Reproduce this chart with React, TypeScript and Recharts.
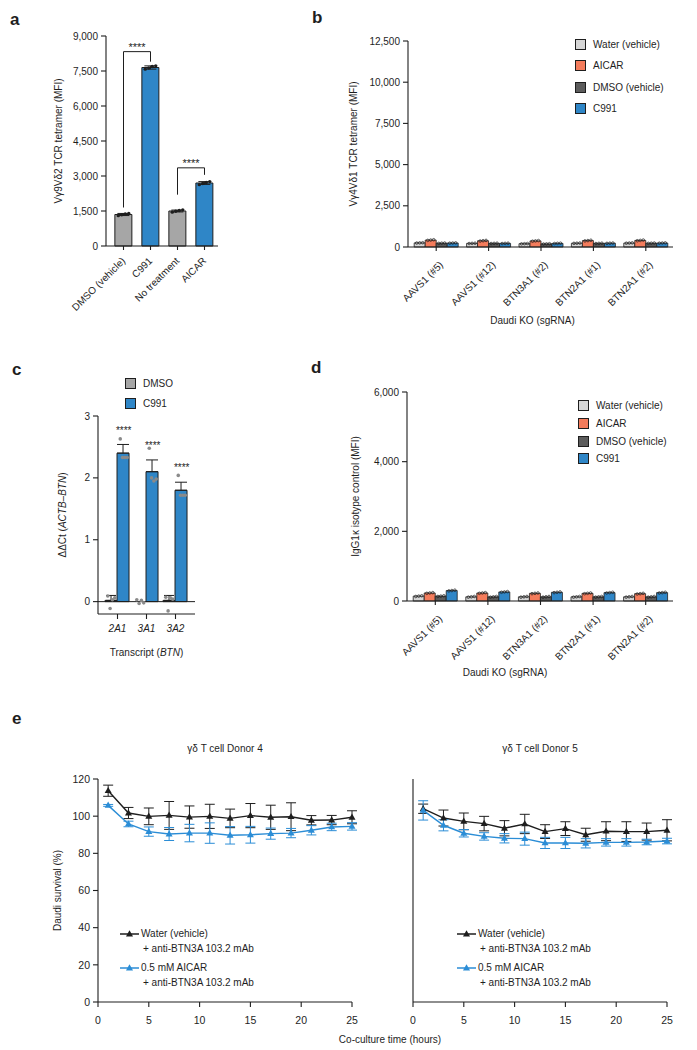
import React from 'react';
import {
  ComposedChart,
  LineChart,
  Bar,
  Cell,
  Line,
  XAxis,
  YAxis,
  Scatter,
  ErrorBar,
  Legend,
  ReferenceLine,
  Label,
} from 'recharts';

const FONT = '"Liberation Sans", Arial, Helvetica, sans-serif';
const INK = '#1e1e1e';
const BLUE = '#2F86C7';
const MID_GREY = '#A6A6A6';
const LIGHT_GREY = '#D6D6D6';
const ORANGE = '#F47C5C';
const DARK_GREY = '#5C5C5C';
const E_BLUE = '#2B8DD6';

// ---- panel a ----
const aGroups = ['DMSO (vehicle)', 'C991', 'No treatment', 'AICAR'];
const aMeans = [1350, 7650, 1500, 2700];
const aErr = [45, 70, 40, 60];
const aReps = [
  [1300, 1340, 1370, 1390],
  [7580, 7630, 7690, 7720],
  [1450, 1490, 1520, 1550],
  [2630, 2680, 2720, 2760],
];
const aColors = [MID_GREY, BLUE, MID_GREY, BLUE];
const aTicks = [0, 1500, 3000, 4500, 6000, 7500, 9000];
// significance brackets: [from group, to group, left leg y, top y, right leg y]
const aBrackets = [
  [0, 1, 1650, 8330, 7900],
  [2, 3, 2200, 3350, 3050],
];

// ---- panels b / d ----
const koGroups = ['AAVS1 (#5)', 'AAVS1 (#12)', 'BTN3A1 (#2)', 'BTN2A1 (#1)', 'BTN2A1 (#2)'];
const koSeries = ['Water (vehicle)', 'AICAR', 'DMSO (vehicle)', 'C991'];
const koColors = [LIGHT_GREY, ORANGE, DARK_GREY, BLUE];

const bWater = [250, 220, 200, 230, 240];
const bAicar = [420, 380, 370, 390, 400];
const bDmso = [230, 220, 190, 220, 230];
const bC991 = [240, 220, 220, 230, 240];
const bWaterReps = [[240, 250, 260], [210, 220, 230], [190, 200, 210], [220, 230, 240], [230, 240, 250]];
const bAicarReps = [[400, 420, 440], [360, 380, 400], [350, 370, 390], [370, 390, 410], [380, 400, 420]];
const bDmsoReps = [[220, 230, 240], [210, 220, 230], [180, 190, 200], [210, 220, 230], [220, 230, 240]];
const bC991Reps = [[230, 240, 250], [210, 220, 230], [210, 220, 230], [220, 230, 240], [230, 240, 250]];
const bTicks = [0, 2500, 5000, 7500, 10000, 12500];

const dWater = [140, 120, 120, 120, 120];
const dAicar = [230, 230, 220, 220, 210];
const dDmso = [140, 120, 120, 120, 120];
const dC991 = [300, 260, 250, 240, 240];
const dWaterReps = [[130, 140, 150], [110, 120, 130], [110, 120, 130], [110, 120, 130], [110, 120, 130]];
const dAicarReps = [[220, 230, 240], [220, 230, 240], [210, 220, 230], [210, 220, 230], [200, 210, 220]];
const dDmsoReps = [[130, 140, 150], [110, 120, 130], [110, 120, 130], [110, 120, 130], [110, 120, 130]];
const dC991Reps = [[290, 300, 310], [250, 260, 270], [240, 250, 260], [230, 240, 250], [230, 240, 250]];
const dTicks = [0, 2000, 4000, 6000];

// ---- panel c ----
const cGenes = ['2A1', '3A1', '3A2'];
const cSeries = ['DMSO', 'C991'];
const cDmso = [0.02, 0.0, 0.02];
const cDmsoErr = [0.08, 0.04, 0.08];
const cC991 = [2.4, 2.1, 1.8];
const cC991Err = [0.14, 0.19, 0.13];
const cDmsoReps = [[0.09, -0.11, 0.03, 0.06], [0.03, -0.03, 0.02, -0.02], [0.07, -0.15, 0.06, 0.04]];
const cC991Reps = [[2.63, 2.33, 2.33, 2.33], [2.48, 2.0, 1.95, 1.98], [2.04, 1.72, 1.72, 1.72]];
const cStarY = [2.77, 2.53, 2.18];
const cTicks = [0, 1, 2, 3];

// ---- panel e ----
const eHours = [1, 3, 5, 7, 9, 11, 13, 15, 17, 19, 21, 23, 25];
const eNames = ['Water (vehicle)', '0.5 mM AICAR'];
const eSubLabel = '+ anti-BTN3A 103.2 mAb';
const d4Water = [113.7, 101.7, 99.9, 100.4, 99.5, 99.9, 98.8, 100.3, 99.4, 99.7, 97.8, 97.9, 99.4];
const d4WaterErr = [3, 3, 4.5, 7.5, 6, 6.5, 5, 6.5, 6.5, 7.5, 2.5, 2.5, 3.5];
const d4Aicar = [105.8, 95.8, 91.7, 90.4, 90.9, 90.9, 89.7, 90.0, 90.6, 90.9, 92.4, 94.2, 94.5];
const d4AicarErr = [0.5, 1.5, 2.5, 3.5, 4.7, 5.5, 4.7, 4.5, 3, 2.5, 2.5, 2, 2];
const d5Water = [104, 99, 97.2, 96, 93.5, 95.8, 91.7, 93.3, 90, 91.9, 91.7, 91.7, 92.4];
const d5WaterErr = [2.5, 4.3, 4.5, 3.9, 4.1, 5.2, 3.7, 3.7, 3.5, 5.1, 5.3, 4.6, 5.7];
const d5Aicar = [103.1, 95.1, 90.8, 89.1, 88.1, 87.9, 85.6, 85.6, 85.4, 85.9, 85.9, 86.1, 86.6];
const d5AicarErr = [5.2, 3, 2, 2, 2.5, 3.5, 3, 3, 2.5, 2, 2, 1.5, 1.5];
const eYTicks = [0, 20, 40, 60, 80, 100, 120];
const eXTicks = [0, 5, 10, 15, 20, 25];

const tickFont = { fontSize: 10, fill: INK };
const axisLine = { stroke: INK, strokeWidth: 1.1 };
const tickLine = { stroke: INK, strokeWidth: 1.1 };
const fmt = (v: number) => v.toLocaleString('en-US');

// keep legend entries in series order and drop the helper series
const ordered = (payload: any[] = [], names: string[]) =>
  names.map((n) => payload.find((p) => p.value === n)).filter(Boolean);

function yTitle(content: React.ReactNode, x: number) {
  return (props: any) => {
    const vb = props.viewBox;
    const cy = vb.y + vb.height / 2;
    return (
      <text x={x} y={cy} transform={`rotate(-90 ${x} ${cy})`} textAnchor="middle" dominantBaseline="central" fontSize={10} fill={INK}>
        {content}
      </text>
    );
  };
}

function xTitle(content: React.ReactNode, dx: number, y: number) {
  return (props: any) => {
    const vb = props.viewBox;
    const cx = vb.x + vb.width / 2 + dx;
    return (
      <text x={cx} y={y} textAnchor="middle" dominantBaseline="central" fontSize={10} fill={INK}>
        {content}
      </text>
    );
  };
}

function slantTick(dx: number, dy: number) {
  return (props: any) => {
    const { x, y, payload } = props;
    const ax = x + dx;
    const ay = y + dy;
    return (
      <text x={ax} y={ay} transform={`rotate(-45 ${ax} ${ay})`} textAnchor="end" dominantBaseline="central" fontSize={10} fill={INK}>
        {payload.value}
      </text>
    );
  };
}

const dotShape = (r: number, fill: string, stroke = 'none') => (p: any) => (
  <circle cx={p.cx} cy={p.cy} r={r} fill={fill} stroke={stroke} strokeWidth={0.7} />
);

function SwatchLegend({ payload, rowH, names }: any) {
  return (
    <div style={{ fontSize: 10, color: INK }}>
      {ordered(payload, names).map((p: any) => (
        <div key={p.value} style={{ display: 'flex', alignItems: 'center', height: rowH }}>
          <span
            style={{
              display: 'inline-block',
              width: 11,
              height: 11,
              boxSizing: 'border-box',
              background: p.color,
              border: `1px solid ${INK}`,
              marginRight: 7,
            }}
          />
          <span>{p.value}</span>
        </div>
      ))}
    </div>
  );
}

function PanelA() {
  const rows = aGroups.map((name, i) => ({ name, mean: aMeans[i], err: aErr[i] }));
  const dots = aReps.flatMap((reps, i) => reps.map((y, k) => ({ x: i + 0.5 + (k - 1.5) * 0.13, y })));
  return (
    <ComposedChart width={230} height={330} data={rows} margin={{ top: 36, right: 12, left: 0, bottom: 0 }} barCategoryGap="18%">
      <XAxis dataKey="name" height={84} interval={0} padding={{ left: 4, right: 0 }} tick={slantTick(0, 7)} tickSize={4} axisLine={axisLine} tickLine={tickLine} />
      <XAxis xAxisId="n" type="number" dataKey="x" domain={[0, 4]} hide padding={{ left: 4, right: 0 }} allowDataOverflow />
      <YAxis width={106} domain={[0, 9000]} ticks={aTicks} interval={0} tickFormatter={fmt} tick={tickFont} tickSize={5} tickMargin={3} axisLine={axisLine} tickLine={tickLine}>
        <Label content={yTitle('Vγ9Vδ2 TCR tetramer (MFI)', 58)} />
      </YAxis>
      <Bar dataKey="mean" isAnimationActive={false} stroke={INK} strokeWidth={1}>
        {rows.map((r, i) => (
          <Cell key={r.name} fill={aColors[i]} />
        ))}
        <ErrorBar dataKey="err" width={6} stroke={INK} strokeWidth={1} />
      </Bar>
      <Scatter xAxisId="n" data={dots} dataKey="y" isAnimationActive={false} legendType="none" shape={dotShape(1.7, INK)} />
      {aBrackets.map(([from, to, yl, yt, yr]) => [
        <ReferenceLine key={`l${from}`} xAxisId="n" ifOverflow="visible" stroke={INK} strokeWidth={1} segment={[{ x: from + 0.5, y: yl }, { x: from + 0.5, y: yt }]} />,
        <ReferenceLine
          key={`t${from}`}
          xAxisId="n"
          ifOverflow="visible"
          stroke={INK}
          strokeWidth={1}
          segment={[{ x: from + 0.5, y: yt }, { x: to + 0.5, y: yt }]}
          label={{ value: '****', position: 'top', offset: 1, fontSize: 11, fill: INK }}
        />,
        <ReferenceLine key={`r${from}`} xAxisId="n" ifOverflow="visible" stroke={INK} strokeWidth={1} segment={[{ x: to + 0.5, y: yt }, { x: to + 0.5, y: yr }]} />,
      ])}
    </ComposedChart>
  );
}

const KO_GAP = 0.08;
const KO_BARF = (1 - 2 * KO_GAP) / 4;

function KoPanel(props: any) {
  const { height, top, yWidth, xHeight, domain, ticks, yLabel, yLabelX, values, reps, legendLeft, legendTop, rowH, xLabelDx, xLabelY } = props;
  const rows = koGroups.map((name, i) => ({ name, s0: values[0][i], s1: values[1][i], s2: values[2][i], s3: values[3][i] }));
  const dots = reps.flatMap((series: number[][], j: number) =>
    series.flatMap((grp, i) => grp.map((y, k) => ({ x: i + KO_GAP + (j + 0.5) * KO_BARF + (k - 1) * 0.27 * KO_BARF, y }))),
  );
  return (
    <ComposedChart width={397} height={height} data={rows} margin={{ top, right: 24, left: 0, bottom: 0 }} barCategoryGap={`${KO_GAP * 100}%`} barGap={0}>
      <XAxis dataKey="name" height={xHeight} interval={0} padding={{ left: 2, right: 1 }} tick={slantTick(5, 10)} tickSize={4} axisLine={axisLine} tickLine={tickLine}>
        <Label content={xTitle('Daudi KO (sgRNA)', xLabelDx, xLabelY)} />
      </XAxis>
      <XAxis xAxisId="n" type="number" dataKey="x" domain={[0, 5]} hide padding={{ left: 2, right: 1 }} allowDataOverflow />
      <YAxis width={yWidth} domain={domain} ticks={ticks} interval={0} tickFormatter={fmt} tick={tickFont} tickSize={5} tickMargin={3} axisLine={axisLine} tickLine={tickLine}>
        <Label content={yTitle(yLabel, yLabelX)} />
      </YAxis>
      {koSeries.map((s, j) => (
        <Bar key={s} dataKey={`s${j}`} name={s} fill={koColors[j]} stroke={INK} strokeWidth={0.8} isAnimationActive={false} />
      ))}
      <Scatter xAxisId="n" data={dots} dataKey="y" isAnimationActive={false} legendType="none" shape={dotShape(1.3, 'none', INK)} />
      <Legend
        layout="vertical"
        align="center"
        verticalAlign="middle"
        wrapperStyle={{ left: legendLeft, top: legendTop, width: 'auto' }}
        content={(p: any) => <SwatchLegend payload={p.payload} rowH={rowH} names={koSeries} />}
      />
    </ComposedChart>
  );
}

const C_GAP = 0.07;
const C_BARF = (1 - 2 * C_GAP) / 2;

function PanelC() {
  const rows = cGenes.map((name, i) => ({
    name,
    dmso: cDmso[i],
    c991: cC991[i],
    dmsoErr: [0, cDmsoErr[i]],
    c991Err: [0, cC991Err[i]],
  }));
  const dots = [cDmsoReps, cC991Reps].flatMap((series, j) =>
    series.flatMap((grp, i) => grp.map((y, k) => ({ x: i + C_GAP + (j + 0.5) * C_BARF + (k - 1.5) * 0.08, y }))),
  );
  const stars = cStarY.map((y, i) => ({ x: i + C_GAP + 1.5 * C_BARF, y }));
  return (
    <ComposedChart width={230} height={300} data={rows} margin={{ top: 46, right: 35, left: 0, bottom: 0 }} barCategoryGap={`${C_GAP * 100}%`} barGap={0}>
      <XAxis
        dataKey="name"
        height={56}
        interval={0}
        padding={{ left: 5, right: 5 }}
        tick={{ ...tickFont, fontStyle: 'italic' }}
        tickSize={5}
        tickMargin={6}
        axisLine={axisLine}
        tickLine={tickLine}
      >
        <Label
          content={xTitle(
            <>
              <tspan>Transcript (</tspan>
              <tspan fontStyle="italic">BTN</tspan>
              <tspan>)</tspan>
            </>,
            0,
            282,
          )}
        />
      </XAxis>
      <XAxis xAxisId="n" type="number" dataKey="x" domain={[0, 3]} hide padding={{ left: 5, right: 5 }} allowDataOverflow />
      <YAxis width={98} domain={[-0.2, 3]} ticks={cTicks} interval={0} tick={tickFont} tickSize={5} tickMargin={3} axisLine={axisLine} tickLine={tickLine}>
        <Label
          content={yTitle(
            <>
              <tspan>ΔΔCt (</tspan>
              <tspan fontStyle="italic">ACTB–BTN</tspan>
              <tspan>)</tspan>
            </>,
            62,
          )}
        />
      </YAxis>
      <ReferenceLine y={0} stroke={INK} strokeWidth={1} />
      <Bar dataKey="dmso" name={cSeries[0]} fill={MID_GREY} stroke={INK} strokeWidth={1} isAnimationActive={false}>
        <ErrorBar dataKey="dmsoErr" width={5} stroke={INK} strokeWidth={1} />
      </Bar>
      <Bar dataKey="c991" name={cSeries[1]} fill={BLUE} stroke={INK} strokeWidth={1} isAnimationActive={false}>
        <ErrorBar dataKey="c991Err" width={6} stroke={INK} strokeWidth={1} />
      </Bar>
      <Scatter xAxisId="n" data={dots} dataKey="y" isAnimationActive={false} legendType="none" shape={dotShape(1.8, '#8a8a8a')} />
      <Scatter
        xAxisId="n"
        data={stars}
        dataKey="y"
        isAnimationActive={false}
        legendType="none"
        shape={(p: any) => (
          <text x={p.cx} y={p.cy + 4} textAnchor="middle" fontSize={10} fill={INK}>
            ****
          </text>
        )}
      />
      <Legend
        layout="vertical"
        align="center"
        verticalAlign="middle"
        wrapperStyle={{ left: 125, top: 3, width: 'auto' }}
        content={(p: any) => <SwatchLegend payload={p.payload} rowH={20} names={cSeries} />}
      />
    </ComposedChart>
  );
}

const triDot = (color: string) => (p: any) => (
  <polygon
    key={`tri-${p.index}`}
    points={`${p.cx},${p.cy - 3.8} ${p.cx - 3.5},${p.cy + 2.4} ${p.cx + 3.5},${p.cy + 2.4}`}
    fill={color}
  />
);

function LineLegend({ payload }: any) {
  return (
    <div style={{ fontSize: 10, color: INK, lineHeight: '15px' }}>
      {ordered(payload, eNames).map((p: any) => (
        <div key={p.value} style={{ marginBottom: 4 }}>
          <div style={{ display: 'flex', alignItems: 'center' }}>
            <svg width={19} height={10} style={{ marginRight: 2 }}>
              <line x1={0} x2={19} y1={5} y2={5} stroke={p.color} strokeWidth={1.5} />
              <polygon points="9.5,1.2 6,7.4 13,7.4" fill={p.color} />
            </svg>
            <span>{p.value}</span>
          </div>
          <div style={{ paddingLeft: 23 }}>{eSubLabel}</div>
        </div>
      ))}
    </div>
  );
}

function SurvivalPanel({ water, waterErr, aicar, aicarErr, showYTicks, legendLeft }: any) {
  const rows = eHours.map((t, i) => ({ t, w: water[i], wErr: waterErr[i], a: aicar[i], aErr: aicarErr[i] }));
  return (
    <LineChart width={370} height={320} data={rows} margin={{ top: 49, right: 18, left: 0, bottom: 0 }}>
      <XAxis type="number" dataKey="t" domain={[0, 25]} ticks={eXTicks} interval={0} height={48} tick={{ ...tickFont, fontSize: 10.5 }} tickSize={5} tickMargin={10} axisLine={axisLine} tickLine={tickLine} />
      <YAxis
        width={98}
        domain={[0, 120]}
        ticks={eYTicks}
        interval={0}
        tick={showYTicks ? { ...tickFont, fontSize: 10.5 } : false}
        tickSize={5}
        tickMargin={3}
        axisLine={axisLine}
        tickLine={tickLine}
      >
        {showYTicks && <Label content={yTitle('Daudi survival (%)', 57)} />}
      </YAxis>
      <Line dataKey="w" name={eNames[0]} stroke={INK} strokeWidth={1.4} dot={triDot(INK)} activeDot={false} isAnimationActive={false}>
        <ErrorBar dataKey="wErr" width={5} stroke={INK} strokeWidth={1} />
      </Line>
      <Line dataKey="a" name={eNames[1]} stroke={E_BLUE} strokeWidth={1.4} dot={triDot(E_BLUE)} activeDot={false} isAnimationActive={false}>
        <ErrorBar dataKey="aErr" width={5} stroke={E_BLUE} strokeWidth={1} />
      </Line>
      <Legend layout="vertical" align="center" verticalAlign="middle" wrapperStyle={{ left: legendLeft, top: 196, width: 'auto' }} content={(p: any) => <LineLegend payload={p.payload} />} />
    </LineChart>
  );
}

const letter = (ch: string, left: number, top: number) => (
  <div style={{ position: 'absolute', left, top, fontSize: 17, fontWeight: 700, lineHeight: '17px' }}>{ch}</div>
);

const caption = (text: string, cx: number, cy: number) => (
  <div style={{ position: 'absolute', left: cx - 120, top: cy - 6, width: 240, textAlign: 'center', fontSize: 10, lineHeight: '12px' }}>{text}</div>
);

export default function App() {
  return (
    <div style={{ position: 'absolute', left: 0, top: 0, width: 697, height: 1050, background: '#fff', fontFamily: FONT, color: INK, overflow: 'hidden' }}>
      <div style={{ position: 'absolute', left: 0, top: 0 }}>
        <PanelA />
      </div>
      <div style={{ position: 'absolute', left: 300, top: 0 }}>
        <KoPanel
          height={330}
          top={41}
          yWidth={108}
          xHeight={83}
          domain={[0, 12500]}
          ticks={bTicks}
          yLabel="Vγ4Vδ1 TCR tetramer (MFI)"
          yLabelX={53}
          values={[bWater, bAicar, bDmso, bC991]}
          reps={[bWaterReps, bAicarReps, bDmsoReps, bC991Reps]}
          legendLeft={275}
          legendTop={34}
          rowH={21.3}
          xLabelDx={-8}
          xLabelY={320}
        />
      </div>
      <div style={{ position: 'absolute', left: 0, top: 370 }}>
        <PanelC />
      </div>
      <div style={{ position: 'absolute', left: 300, top: 350 }}>
        <KoPanel
          height={340}
          top={42}
          yWidth={107}
          xHeight={89}
          domain={[0, 6000]}
          ticks={dTicks}
          yLabel="IgG1κ isotype control (MFI)"
          yLabelX={55}
          values={[dWater, dAicar, dDmso, dC991]}
          reps={[dWaterReps, dAicarReps, dDmsoReps, dC991Reps]}
          legendLeft={278}
          legendTop={47}
          rowH={17.7}
          xLabelDx={-35}
          xLabelY={322}
        />
      </div>
      <div style={{ position: 'absolute', left: 0, top: 730 }}>
        <SurvivalPanel water={d4Water} waterErr={d4WaterErr} aicar={d4Aicar} aicarErr={d4AicarErr} showYTicks legendLeft={120} />
      </div>
      <div style={{ position: 'absolute', left: 315, top: 730 }}>
        <SurvivalPanel water={d5Water} waterErr={d5WaterErr} aicar={d5Aicar} aicarErr={d5AicarErr} showYTicks={false} legendLeft={142} />
      </div>
      {letter('a', 10, 11)}
      {letter('b', 312, 9)}
      {letter('c', 12, 361)}
      {letter('d', 311, 359)}
      {letter('e', 12, 710)}
      {caption('γδ T cell Donor 4', 225, 749)}
      {caption('γδ T cell Donor 5', 540, 749)}
      {caption('Co-culture time (hours)', 390, 1040)}
    </div>
  );
}
